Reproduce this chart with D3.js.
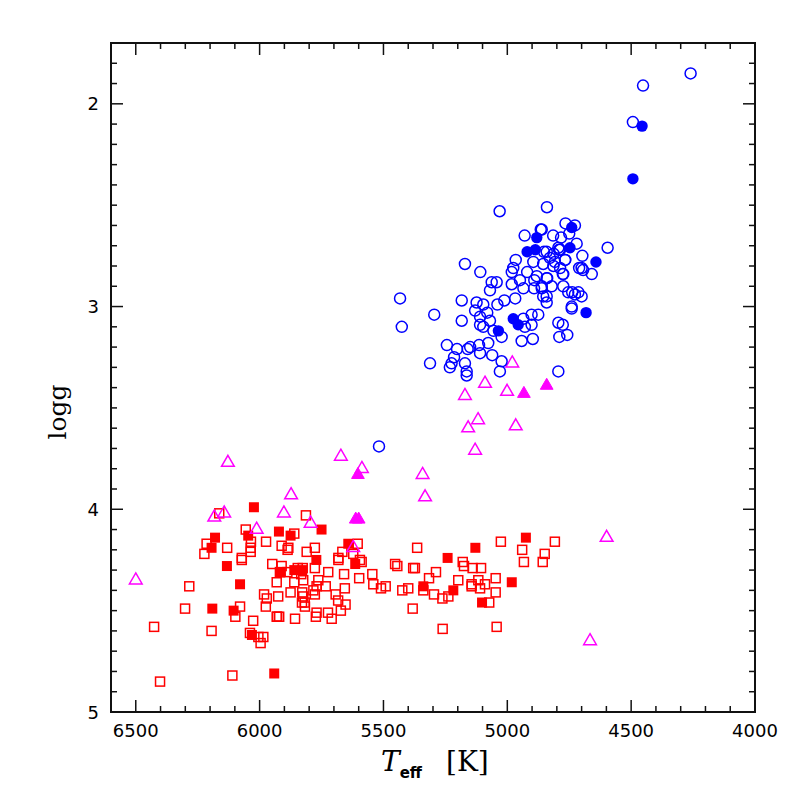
<!DOCTYPE html>
<html><head><meta charset="utf-8">
<script src="https://cdn.jsdelivr.net/npm/d3@7"></script>
<style>body{margin:0;background:#fff}svg{display:block}</style>
</head><body><svg id="c" width="797" height="797"></svg>
<script>
// [Teff, logg]
const giantsOpen = [[4260,1.85],[4452,1.91],[4493,2.09],
[5031,2.53],[4840,2.51],[4765,2.59],[4865,2.62],[4930,2.65],[4815,2.65],[4783,2.66],
[4852,2.73],[4791,2.72],[4813,2.74],[4766,2.77],[4966,2.77],[5171,2.79],[5109,2.83],[4976,2.81],[4982,2.83],[4895,2.78],[4855,2.79],[4814,2.80],[4787,2.81],[4920,2.83],[4881,2.85],[4841,2.86],[4776,2.84],[4710,2.81],
[5043,2.88],[5063,2.88],[4949,2.87],[4891,2.87],[4982,2.89],[4935,2.91],[4892,2.91],[4861,2.90],[4821,2.90],[4774,2.90],[5070,2.92],[4738,2.93],[4713,2.93],
[5433,2.96],[5184,2.97],[5124,2.98],[5012,2.97],[5040,2.99],[4968,2.96],[4855,2.95],[4841,2.98],[5097,2.99],[5130,3.02],[5081,3.03],[4740,3.00],[4740,3.01],
[5295,3.04],[5184,3.07],[5426,3.10],[4935,3.06],[4902,3.04],[4875,3.04],[4929,3.10],[4902,3.09],[5110,3.05],[5110,3.09],[5097,3.10],[5070,3.07],[5056,3.12],[5023,3.15],[4942,3.17],[4897,3.16],[4794,3.08],[4776,3.09],[4758,3.14],[4790,3.15],
[5244,3.19],[5203,3.21],[5160,3.21],[5150,3.20],[5114,3.19],[5077,3.18],[5110,3.23],[5061,3.24],[5215,3.25],[5312,3.28],[5232,3.30],[5171,3.28],[5164,3.32],[5164,3.34],[5030,3.32],[4794,3.32],[5023,3.27],[5225,3.28],
[5518,3.69],
[4727,2.60],[4750,2.64],[4861,2.62],[4720,2.69],[4595,2.71],[4697,2.75],[4841,2.73],[4794,2.71],[4787,2.72],[4767,2.77],[4808,2.78],[4828,2.76],[4700,2.81],[4659,2.84],[4694,2.82],[4839,2.86],[4774,2.84],[4754,2.93],[4727,2.94],[4700,2.95],[4841,2.95],[4861,2.91]];
const giantsFilled = [[4456,2.11],[4493,2.37],[4740,2.61],[4881,2.66],[4920,2.73],[4887,2.72],[4747,2.71],[4642,2.78],[4682,3.03],[4976,3.06],[4956,3.09],[5036,3.12]];
const subgiantsOpen = [[4980,3.28],[5090,3.38],[5171,3.44],[5001,3.42],[5118,3.56],[5158,3.60],[4966,3.59],[5130,3.71],[4599,4.14],[4666,4.65],[5342,3.83],[5332,3.94],[5672,3.74],[5587,3.80],[5622,4.19],[5873,3.93],[5902,4.02],[5794,4.07],[6128,3.77],[6183,4.04],[6143,4.02],[6012,4.10],[6500,4.35]];
const subgiantsFilled = [[4933,3.43],[4841,3.39],[5603,3.83],[5612,4.05],[5600,4.05]];
const dwarfsOpen = [[6163,4.02],[6056,4.10],[6214,4.17],[6223,4.22],[6131,4.19],[6035,4.16],[5974,4.16],[6036,4.19],[6036,4.21],[6072,4.24],[5949,4.27],[6284,4.38],[5931,4.36],[5982,4.42],[5971,4.44],[5975,4.48],[6301,4.49],[6079,4.48],[6098,4.53],[6026,4.55],[6426,4.58],[6194,4.60],[6039,4.61],[6005,4.63],[5985,4.63],[5996,4.66],[5931,4.53],[5925,4.43],[6110,4.82],[6402,4.85],
[6072,4.25],[5911,4.28],[5918,4.31],[5888,4.31],[5826,4.29],[5832,4.32],[5777,4.29],[5723,4.31],[5682,4.25],[5659,4.32],[5588,4.26],[5598,4.34],[5545,4.32],[5453,4.27],[5444,4.28],[5380,4.29],[5860,4.36],[5763,4.35],[5770,4.38],[5733,4.38],[5828,4.41],[5783,4.40],[5777,4.42],[5875,4.41],[5824,4.43],[5818,4.46],[5829,4.46],[5817,4.48],[5693,4.42],[5683,4.45],[5653,4.47],[5672,4.50],[5656,4.39],[5541,4.37],[5510,4.39],[5491,4.38],[5424,4.40],[5400,4.39],[5921,4.53],[5929,4.53],[5857,4.54],[5770,4.51],[5773,4.53],[5724,4.51],[5709,4.54],[5382,4.49],
[5813,4.03],[5860,4.12],[5911,4.18],[5884,4.19],[5887,4.20],[5810,4.21],[5777,4.19],[5604,4.17],[5666,4.21],[5682,4.24],[5622,4.22],[5595,4.25],[5846,4.29],[5824,4.35],
[5026,4.16],[4808,4.16],[4940,4.20],[4849,4.22],[4933,4.26],[4857,4.26],[5364,4.19],[5180,4.26],[5175,4.28],[5140,4.29],[5106,4.29],[5373,4.29],[5288,4.31],[5316,4.34],[5198,4.35],[5047,4.34],[5144,4.37],[5117,4.35],[5090,4.37],[5110,4.39],[5144,4.38],[5339,4.40],[5296,4.42],[5238,4.43],[5262,4.44],[5047,4.41],[5073,4.46],[5261,4.59],[5043,4.58]];
const dwarfsFilled = [[6023,3.99],[6046,4.13],[6180,4.14],[6194,4.19],[6132,4.28],[6079,4.37],[6191,4.49],[6105,4.50],[6031,4.62],[5941,4.81],[5922,4.11],[5875,4.13],[5750,4.10],[5642,4.17],[5614,4.27],[5771,4.25],[5914,4.31],[5860,4.30],[5828,4.30],[5129,4.19],[4925,4.14],[5241,4.24],[4982,4.36],[5339,4.38],[5218,4.40],[5102,4.46]];

const xMajor = [6500,6000,5500,5000,4500,4000];
const yMajor = [2,3,4,5];

const svg = d3.select("#c");
const L=111, R=755, T=43, B=712;
const x = d3.scaleLinear().domain([6600,4000]).range([L,R]);
const y = d3.scaleLinear().domain([1.7,5]).range([T,B]);

const fontTick = "'DejaVu Sans', sans-serif";
const serif = "'DejaVu Serif', 'Liberation Serif', serif";

// ticks
const g = svg.append("g").attr("stroke","#111").attr("stroke-width",1.5);
const xMinor = d3.range(6600,3999,-100);
xMinor.forEach(v=>{
  const len = xMajor.includes(v)?12:6;
  g.append("line").attr("x1",x(v)).attr("x2",x(v)).attr("y1",B).attr("y2",B-len);
  g.append("line").attr("x1",x(v)).attr("x2",x(v)).attr("y1",T).attr("y2",T+len);
});
const yMinor = d3.range(17,51).map(v=>v/10);
yMinor.forEach(v=>{
  const len = yMajor.some(m=>Math.abs(m-v)<1e-6)?12:6;
  g.append("line").attr("y1",y(v)).attr("y2",y(v)).attr("x1",L).attr("x2",L+len);
  g.append("line").attr("y1",y(v)).attr("y2",y(v)).attr("x1",R).attr("x2",R-len);
});
svg.append("rect").attr("x",L).attr("y",T).attr("width",R-L).attr("height",B-T)
  .attr("fill","none").attr("stroke","#111").attr("stroke-width",2);

svg.selectAll(".xl").data(xMajor).enter().append("text")
  .attr("x",d=>x(d)).attr("y",B+25).attr("text-anchor","middle")
  .attr("font-family",fontTick).attr("font-size",18).text(d=>d);
svg.selectAll(".yl").data(yMajor).enter().append("text")
  .attr("x",L-12).attr("y",d=>y(d)+6.5).attr("text-anchor","end")
  .attr("font-family",fontTick).attr("font-size",18).text(d=>d);

// axis titles
const xt = svg.append("text").attr("x",381).attr("y",771).attr("font-family",serif).attr("font-size",28);
xt.append("tspan").attr("font-style","italic").text("T");
xt.append("tspan").attr("font-family","'DejaVu Sans', sans-serif").attr("font-weight","bold").attr("font-size",15).attr("dy",7).text("eff");
xt.append("tspan").attr("dy",-7).attr("dx",24).text("[K]");

svg.append("text").attr("transform","translate(66,412) rotate(-90)").attr("text-anchor","middle")
  .attr("font-family",serif).attr("font-size",25).text("logg");

// marks
const plot = svg.append("g");
const sq = 9;
plot.selectAll(".do").data(dwarfsOpen).enter().append("rect")
  .attr("x",d=>x(d[0])-sq/2).attr("y",d=>y(d[1])-sq/2).attr("width",sq).attr("height",sq)
  .attr("fill","none").attr("stroke","#ff0000").attr("stroke-width",1.5);
plot.selectAll(".df").data(dwarfsFilled).enter().append("rect")
  .attr("x",d=>x(d[0])-5).attr("y",d=>y(d[1])-5).attr("width",10).attr("height",10)
  .attr("fill","#ff0000");
const tri = d3.symbol().type(d3.symbolTriangle).size(70);
plot.selectAll(".so").data(subgiantsOpen).enter().append("path")
  .attr("d",tri).attr("transform",d=>`translate(${x(d[0])},${y(d[1])})`)
  .attr("fill","none").attr("stroke","#ff00ff").attr("stroke-width",1.5);
plot.selectAll(".sf").data(subgiantsFilled).enter().append("path")
  .attr("d",tri).attr("transform",d=>`translate(${x(d[0])},${y(d[1])})`)
  .attr("fill","#ff00ff").attr("stroke","#ff00ff").attr("stroke-width",1);
plot.selectAll(".go").data(giantsOpen).enter().append("circle")
  .attr("cx",d=>x(d[0])).attr("cy",d=>y(d[1])).attr("r",5.5)
  .attr("fill","none").attr("stroke","#0000ff").attr("stroke-width",1.5);
plot.selectAll(".gf").data(giantsFilled).enter().append("circle")
  .attr("cx",d=>x(d[0])).attr("cy",d=>y(d[1])).attr("r",5.7)
  .attr("fill","#0000ff");
</script></body></html>
